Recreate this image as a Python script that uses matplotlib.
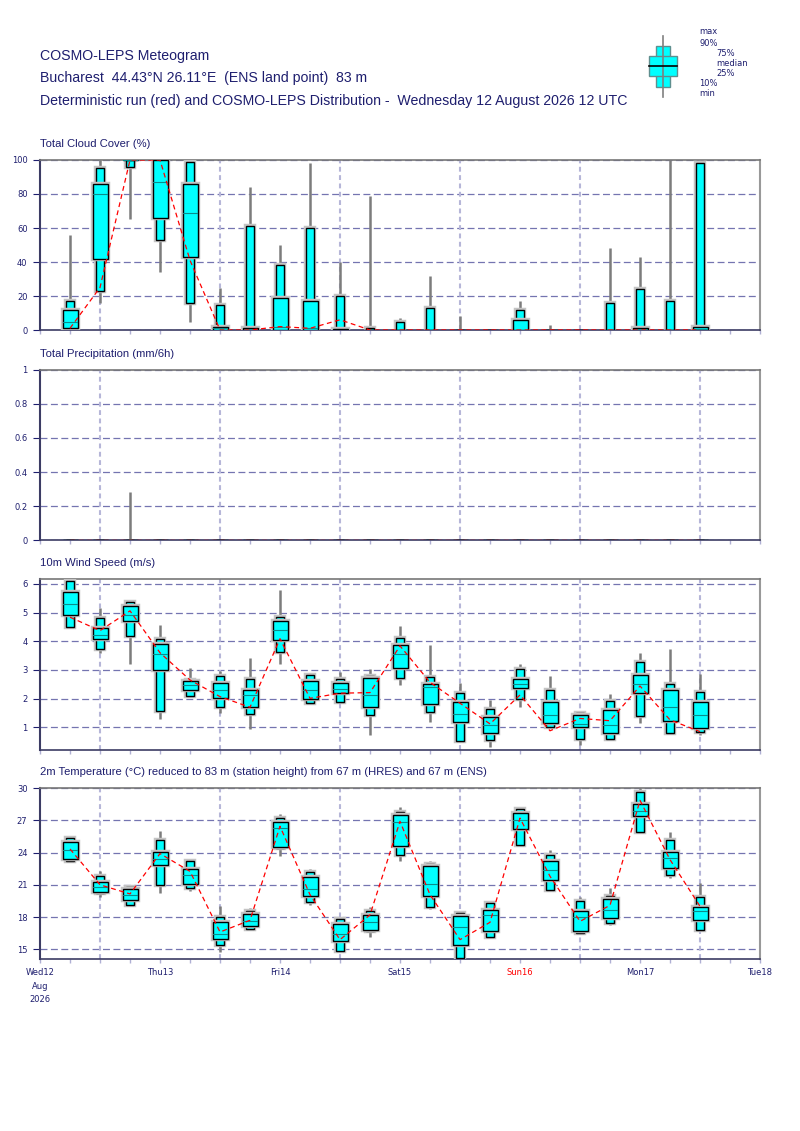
import matplotlib.pyplot as plt
import matplotlib.patheffects as pe
from matplotlib.patches import Rectangle

plt.rcParams['font.family'] = ['DejaVu Sans']
plt.rcParams['lines.scale_dashes'] = False

NAVY = '#1e1e6e'
SANS = ['Liberation Sans', 'DejaVu Sans']

# forecast steps (hours after Wed 12 Aug 2026 12 UTC)
steps = list(range(6, 133, 6))
day_hours = [0, 24, 48, 72, 96, 120, 144]
day_labels = ['Wed12\nAug\n2026', 'Thu13', 'Fri14', 'Sat15', 'Sun16', 'Mon17', 'Tue18']
midnight_hours = [12, 36, 60, 84, 108, 132]

# Total cloud cover (%)
cc_min = [0, 16, 65, 34, 5, 0, 0, 0, 0, 0, 0, 0, 0, 0, 0, 0, 0, 0, 0, 0, 0, 0]
cc_p10 = [0, 23, 96, 53, 16, 0, 0, 0, 0, 0, 0, 0, 0, 0, 0, 0, 0, 0, 0, 0, 0, 0]
cc_p25 = [1, 42, 100, 66, 43, 0, 0, 0, 0, 0, 0, 0, 0, 0, 0, 0, 0, 0, 0, 0, 0, 0]
cc_med = [5, 80, 100, 87, 69, 1, 0, 2, 1, 0, 0, 0, 0, 0, 0, 0, 0, 0, 0, 0, 0, 0.5]
cc_p75 = [12, 86, 100, 100, 86, 2, 1, 19, 17, 0.5, 0, 0, 0, 0, 0, 6, 0, 0, 0, 1, 0, 2]
cc_p90 = [17, 95, 100, 100, 99, 15, 61, 38, 60, 20, 1, 5, 13, 0, 0, 12, 0, 0, 16, 24, 17, 98]
cc_max = [56, 100, 100, 100, 100, 25, 84, 50, 98, 40, 79, 7, 32, 8, 0, 17, 3, 0, 48, 43, 100, 100]
cc_det = [1, 25, 100, 100, 41, 0, 0, 2, 1, 6, 0, 0, 0, 0, 0, 0, 0, 0, 0, 0, 0, 0]

# Total precipitation (mm/6h)
tp_min = [0] * 22
tp_p10 = [0] * 22
tp_p25 = [0] * 22
tp_med = [0] * 22
tp_p75 = [0] * 22
tp_p90 = [0] * 22
tp_max = [0, 0, 0.28, 0, 0, 0, 0, 0, 0, 0, 0, 0, 0, 0, 0, 0, 0, 0, 0, 0, 0, 0]
tp_det = [0] * 22

# 10m wind speed (m/s)
ws_min = [4.45, 3.60, 3.20, 1.28, 2.05, 1.51, 0.93, 3.21, 1.84, 1.84, 0.73, 2.49, 1.17, 0.50, 0.33, 1.72, 0.99, 0.38, 0.56, 1.16, 0.77, 0.73]
ws_p10 = [4.51, 3.72, 4.19, 1.58, 2.08, 1.70, 1.45, 3.63, 1.86, 1.88, 1.43, 2.71, 1.52, 0.52, 0.56, 1.99, 1.02, 0.59, 0.59, 1.40, 0.79, 0.83]
ws_p25 = [4.90, 4.09, 4.69, 3.00, 2.29, 2.02, 1.71, 4.03, 2.00, 2.19, 1.71, 3.06, 1.81, 1.19, 0.81, 2.36, 1.14, 1.00, 0.79, 2.19, 1.23, 0.97]
ws_med = [5.30, 4.22, 4.92, 3.55, 2.48, 2.30, 2.13, 4.40, 2.30, 2.35, 2.13, 3.55, 2.42, 1.48, 1.08, 2.51, 1.43, 1.12, 1.07, 2.51, 1.71, 1.42]
ws_p75 = [5.71, 4.45, 5.22, 3.91, 2.63, 2.53, 2.30, 4.70, 2.63, 2.56, 2.71, 3.87, 2.50, 1.88, 1.36, 2.70, 1.90, 1.43, 1.59, 2.81, 2.29, 1.88]
ws_p90 = [6.09, 4.80, 5.36, 4.09, 2.66, 2.78, 2.67, 4.84, 2.84, 2.67, 2.78, 4.10, 2.77, 2.19, 1.63, 3.03, 2.31, 1.49, 1.91, 3.27, 2.52, 2.23]
ws_max = [6.15, 5.15, 5.44, 4.57, 3.08, 2.97, 3.41, 5.79, 2.91, 2.92, 3.03, 4.53, 3.86, 2.56, 1.95, 3.20, 2.79, 1.55, 2.15, 3.60, 3.72, 2.85]
ws_det = [4.84, 4.37, 5.06, 3.60, 2.65, 2.07, 1.70, 4.09, 2.01, 2.19, 2.21, 3.84, 2.57, 1.84, 1.12, 2.13, 0.88, 1.31, 1.23, 2.44, 1.26, 0.85]

# 2m temperature (C)
t_min = [23.10, 19.87, 19.00, 20.24, 20.40, 14.72, 16.83, 23.65, 19.15, 14.72, 16.15, 23.24, 18.78, 14.10, 16.06, 24.64, 20.46, 16.43, 17.23, 25.88, 21.63, 16.74]
t_p10 = [23.18, 20.24, 19.10, 20.95, 20.70, 15.40, 16.89, 24.39, 19.40, 14.82, 16.67, 23.74, 18.94, 14.20, 16.15, 24.67, 20.55, 16.52, 17.45, 25.94, 21.91, 16.80]
t_p25 = [23.40, 20.33, 19.59, 22.84, 21.08, 16.00, 17.14, 24.51, 19.93, 15.75, 16.83, 24.64, 19.99, 15.44, 16.67, 26.19, 21.42, 16.74, 17.91, 27.43, 22.59, 17.73]
t_med = [24.20, 20.80, 20.08, 23.43, 21.94, 16.46, 17.67, 26.28, 20.61, 16.46, 17.54, 26.84, 21.08, 17.05, 18.19, 26.99, 22.41, 17.98, 18.69, 27.83, 23.49, 18.60]
t_p75 = [24.95, 21.30, 20.60, 24.08, 22.47, 17.54, 18.29, 26.80, 21.73, 17.36, 18.19, 27.49, 22.78, 18.10, 18.66, 27.68, 23.18, 18.60, 19.68, 28.51, 24.05, 18.94]
t_p90 = [25.32, 21.80, 20.77, 25.13, 23.18, 18.00, 18.53, 27.18, 22.19, 17.85, 18.53, 27.74, 22.93, 18.35, 19.28, 28.05, 23.74, 19.53, 19.93, 29.60, 25.17, 19.87]
t_max = [25.50, 22.30, 20.92, 25.97, 23.28, 19.00, 18.84, 27.58, 22.47, 17.95, 18.91, 28.20, 23.18, 18.53, 19.37, 28.20, 24.20, 19.84, 20.70, 30.00, 25.88, 21.17]
t_det = [24.33, 21.00, 20.15, 23.90, 22.25, 16.61, 17.70, 26.44, 20.08, 15.90, 18.20, 26.90, 20.08, 15.90, 17.51, 27.20, 21.79, 17.60, 19.09, 28.85, 23.34, 19.00]

W, H = 800.0, 1131.0
fig = plt.figure(figsize=(8, 11.31), dpi=100)

# overlay in pixel coordinates for header, legend and panel titles
over = fig.add_axes([0, 0, 1, 1], zorder=10)
over.set_xlim(0, W)
over.set_ylim(H, 0)
over.axis('off')
over.patch.set_alpha(0)

over.text(40, 56, 'COSMO-LEPS Meteogram', family=SANS, fontsize=10.2, color=NAVY, va='center')
over.text(40, 78, 'Bucharest  44.43°N 26.11°E  (ENS land point)  83 m', family=SANS,
          fontsize=10.2, color=NAVY, va='center')
over.text(40, 101, 'Deterministic run (red) and COSMO-LEPS Distribution -  Wednesday 12 August 2026 12 UTC',
          family=SANS, fontsize=10.2, color=NAVY, va='center')

# legend glyph
over.plot([663, 663], [36, 97], color='#808080', lw=1.2)
over.add_patch(Rectangle((656, 46), 14, 41, fc='cyan', ec='#5f8f8f', lw=1))
over.add_patch(Rectangle((649, 56), 28, 20, fc='cyan', ec='#5f8f8f', lw=1))
over.plot([649, 677], [66, 66], color='black', lw=1.2)
for lab, lx, ly in [('max', 699, 32), ('90%', 699, 43), ('75%', 716, 53), ('median', 716, 63),
                    ('25%', 716, 73), ('10%', 699, 83), ('min', 699, 93)]:
    over.text(lx, ly, lab, fontsize=6, color=NAVY, va='center')


def panel(top, bottom, title):
    ax = fig.add_axes([40 / W, 1 - bottom / H, 720 / W, (bottom - top) / H])
    over.text(40, top - 16, title, family=SANS, fontsize=8.1, color=NAVY, va='center')
    return ax


def style(ax, ylim, yticks, ylabels):
    ax.set_xlim(0, 144)
    ax.set_ylim(*ylim)
    ax.set_yticks(yticks)
    ax.set_yticklabels(ylabels)
    for y in yticks:
        ax.axhline(y, color='#7474b0', lw=0.9, dashes=(5, 2.5), zorder=1)
    for x in midnight_hours:
        ax.axvline(x, color='#b6b6d8', lw=1.5, dashes=(3.5, 2.5), zorder=1)
    ax.spines['left'].set_color('#3c3c64')
    ax.spines['left'].set_linewidth(1.5)
    ax.spines['bottom'].set_color('#3c3c64')
    ax.spines['bottom'].set_linewidth(1.2)
    ax.spines['right'].set_color('#999999')
    ax.spines['right'].set_linewidth(1.5)
    ax.spines['top'].set_color('#777777')
    ax.spines['top'].set_linewidth(1.2)
    ax.tick_params(axis='y', labelsize=6, labelcolor=NAVY, color=NAVY, length=5, width=0.8, pad=4)
    ax.set_xticks(list(range(0, 145, 6)))
    ax.set_xticklabels([])
    ax.set_xticks(midnight_hours, minor=True)
    ax.tick_params(axis='x', which='major', length=3, width=1, color='#b0b0d4')
    ax.tick_params(axis='x', which='minor', length=6, width=1.5, color='#4c4c7c')


def boxes(ax, mn, p10, p25, med, p75, p90, mx, det):
    halo = [pe.Stroke(linewidth=3.2, foreground='#c4c4c4'), pe.Normal()]
    for i, x in enumerate(steps):
        if mx[i] > mn[i]:
            ax.plot([x, x], [mn[i], mx[i]], color='#7c7c7c', lw=1.8, zorder=3,
                    solid_capstyle='butt')
        r = Rectangle((x - 0.8, p10[i]), 1.6, p90[i] - p10[i], fc='cyan', ec='black', lw=1.0, zorder=4)
        if p90[i] > p10[i]:
            r.set_path_effects(halo)
        ax.add_patch(r)
        r = Rectangle((x - 1.5, p25[i]), 3.0, p75[i] - p25[i], fc='cyan', ec='black', lw=1.0, zorder=5)
        if p75[i] > p25[i]:
            r.set_path_effects(halo)
        ax.add_patch(r)
        ax.plot([x - 1.4, x + 1.4], [med[i], med[i]], color='#0a8c8c', lw=0.8, zorder=6)
    ax.plot(steps, det, color='red', lw=0.9, dashes=(3.5, 2.5), zorder=7)


ax1 = panel(160, 330, 'Total Cloud Cover (%)')
style(ax1, (0, 100), [0, 20, 40, 60, 80, 100], ['0', '20', '40', '60', '80', '100'])
boxes(ax1, cc_min, cc_p10, cc_p25, cc_med, cc_p75, cc_p90, cc_max, cc_det)

ax2 = panel(370, 540, 'Total Precipitation (mm/6h)')
style(ax2, (0, 1), [0, 0.2, 0.4, 0.6, 0.8, 1], ['0', '0.2', '0.4', '0.6', '0.8', '1'])
boxes(ax2, tp_min, tp_p10, tp_p25, tp_med, tp_p75, tp_p90, tp_max, tp_det)

ax3 = panel(579, 750, '10m Wind Speed (m/s)')
style(ax3, (0.21, 6.17), [1, 2, 3, 4, 5, 6], ['1', '2', '3', '4', '5', '6'])
boxes(ax3, ws_min, ws_p10, ws_p25, ws_med, ws_p75, ws_p90, ws_max, ws_det)

ax4 = panel(788, 959, '2m Temperature (°C) reduced to 83 m (station height) from 67 m (HRES) and 67 m (ENS)')
style(ax4, (14.1, 30), [15, 18, 21, 24, 27, 30], ['15', '18', '21', '24', '27', '30'])
boxes(ax4, t_min, t_p10, t_p25, t_med, t_p75, t_p90, t_max, t_det)

for h, lab in zip(day_hours, day_labels):
    col = 'red' if lab.startswith('Sun') else NAVY
    over.text(40 + h * 5, 968, lab, fontsize=6, color=col, ha='center', va='top', linespacing=1.65)

fig.savefig('out.png', dpi=100)
